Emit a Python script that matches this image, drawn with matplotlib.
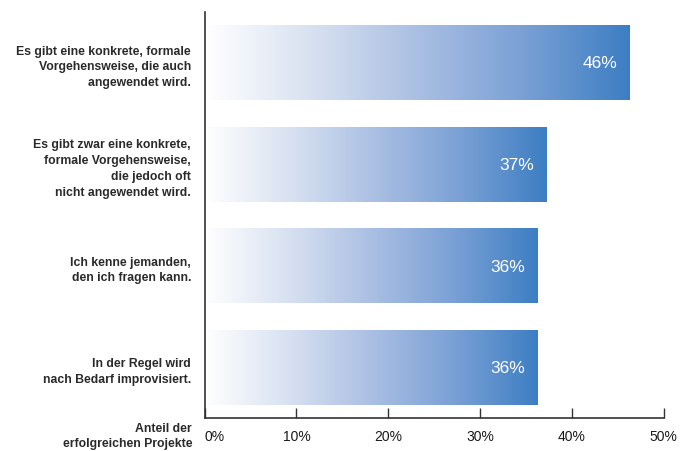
import matplotlib
matplotlib.use('Agg')
import matplotlib.pyplot as plt
from matplotlib.colors import LinearSegmentedColormap
import numpy as np

categories = ['Es gibt eine konkrete, formale\nVorgehensweise, die auch\nangewendet wird.',
              'Es gibt zwar eine konkrete,\nformale Vorgehensweise,\ndie jedoch oft\nnicht angewendet wird.',
              'Ich kenne jemanden,\nden ich fragen kann.',
              'In der Regel wird\nnach Bedarf improvisiert.']
values = [46.2, 37.2, 36.2, 36.2]
xticks = [0, 10, 20, 30, 40, 50]
xlabel = 'Anteil der\nerfolgreichen Projekte'

plt.rcParams['font.family'] = ['Liberation Sans', 'DejaVu Sans']

fig = plt.figure(figsize=(6.91, 4.52), dpi=100)
ax = fig.add_axes([0.2962, 0.073, 0.9605 - 0.2962, 0.9712 - 0.073])

cmap = LinearSegmentedColormap.from_list('bar', [(0, '#ffffff'), (0.25, '#d8e1f1'),
                                                  (0.5, '#aabfe3'), (0.75, '#7aa0d5'),
                                                  (1, '#3d7ec3')])
grad = np.linspace(0, 1, 256).reshape(1, -1)
h = 0.73
for i, v in enumerate(values):
    ax.imshow(grad, cmap=cmap, aspect='auto', extent=[0, v, i + h / 2, i - h / 2],
              interpolation='bilinear', zorder=1)
    ax.text(v - 1.3, i, '%d%%' % round(v), color='white', fontsize=12.5,
            ha='right', va='center', zorder=3)

ax.set_xlim(0, 50)
ax.set_ylim(3.497, -0.502)
ax.set_yticks(range(len(categories)))
ax.set_yticklabels(categories, fontsize=8.8, fontweight='bold', color='#2a2a2a',
                   linespacing=1.42)
ax.tick_params(axis='y', length=0, pad=9.8)
ax.set_xticks(xticks)
ax.set_xticklabels(['%d%%' % t for t in xticks], fontsize=10, color='#1a1a1a')
ax.tick_params(axis='x', direction='in', length=7.2, width=1, color='#333333', pad=8)
ax.get_xticklabels()[0].set_horizontalalignment('left')

for s in ['top', 'right']:
    ax.spines[s].set_visible(False)
for s in ['left', 'bottom']:
    ax.spines[s].set_color('#333333')
    ax.spines[s].set_linewidth(1.2)

fig.text(192 / 691, 2 / 452, xlabel, ha='right', va='bottom', fontsize=8.8,
         fontweight='bold', color='#2a2a2a', linespacing=1.35)

fig.savefig('out.png', dpi=100)
